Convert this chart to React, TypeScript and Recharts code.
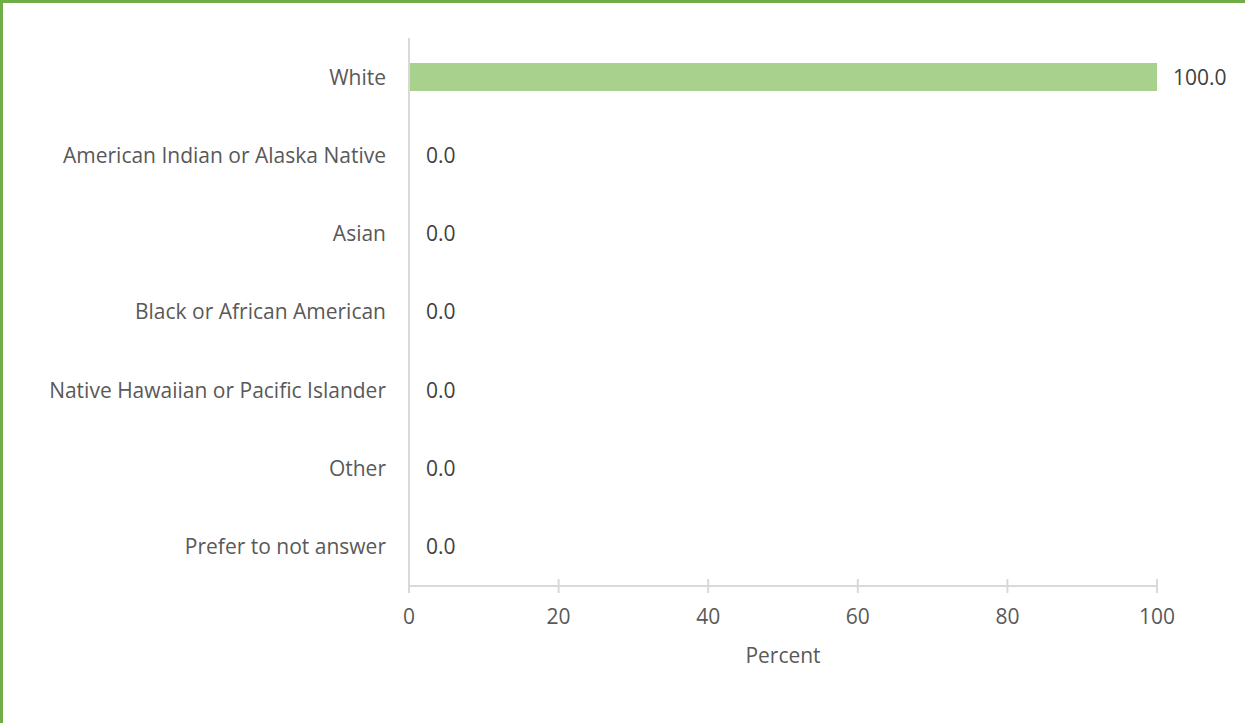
import { Bar, BarChart, Rectangle, XAxis, YAxis } from 'recharts'

const categories = [
  'White',
  'American Indian or Alaska Native',
  'Asian',
  'Black or African American',
  'Native Hawaiian or Pacific Islander',
  'Other',
  'Prefer to not answer'
]
const percents = [100, 0, 0, 0, 0, 0, 0]
const xTicks = [0, 20, 40, 60, 80, 100]

const data = categories.map((name, i) => ({ name, value: percents[i] }))

const font = '"Open Sans", sans-serif'
const fontSize = 21
const axisColor = '#D9D9D9'

function CrossTick(props: any) {
  const { x, y, payload } = props
  return (
    <g>
      <line x1={x} x2={x} y1={y - 7} y2={y + 7} stroke={axisColor} strokeWidth={2} />
      <text
        x={x}
        y={y + 38}
        textAnchor="middle"
        fill="#595959"
        fontSize={fontSize}
        fontFamily={font}
      >
        {payload.value}
      </text>
    </g>
  )
}

function ValueLabel(props: any) {
  const { x, y, width, height, value } = props
  return (
    <text
      x={x + width + 16}
      y={y + height / 2}
      dy="0.36em"
      textAnchor="start"
      fill="#404040"
      fontSize={fontSize}
      fontFamily={font}
    >
      {Number(value).toFixed(1)}
    </text>
  )
}

// zero bars get a 1px placeholder so their labels still render, but draw nothing
function BarShape(props: any) {
  if (!props.payload || props.payload.value <= 0) return <g />
  return <Rectangle {...props} />
}

export default function App(): React.JSX.Element {
  return (
    <div style={{ position: 'absolute', left: 0, top: 0, width: 1245, height: 723, background: '#fff' }}>
      <BarChart
        width={1245}
        height={723}
        layout="vertical"
        data={data}
        margin={{ top: 38, right: 88, bottom: 57, left: 0 }}
        barCategoryGap="32%"
      >
        <XAxis
          type="number"
          domain={[0, 100]}
          ticks={xTicks}
          height={80}
          tickSize={0}
          tickMargin={0}
          tickLine={false}
          axisLine={{ stroke: axisColor, strokeWidth: 2 }}
          tick={<CrossTick />}
          label={{
            value: 'Percent',
            position: 'insideBottom',
            offset: 3,
            fill: '#595959',
            fontSize,
            fontFamily: font
          }}
        />
        <YAxis
          type="category"
          dataKey="name"
          width={409}
          tickSize={0}
          tickMargin={23}
          tickLine={false}
          axisLine={{ stroke: axisColor, strokeWidth: 2 }}
          tick={{ fill: '#595959', fontSize, fontFamily: font }}
          interval={0}
        />
        <Bar
          dataKey="value"
          fill="#A9D18E"
          minPointSize={1}
          shape={<BarShape />}
          isAnimationActive={false}
          label={<ValueLabel />}
        />
      </BarChart>
      <div
        style={{
          position: 'absolute',
          left: 0,
          top: 0,
          width: 1245,
          height: 723,
          boxSizing: 'border-box',
          borderTop: '3px solid #70AD47',
          borderLeft: '3px solid #70AD47',
          pointerEvents: 'none'
        }}
      />
    </div>
  )
}
